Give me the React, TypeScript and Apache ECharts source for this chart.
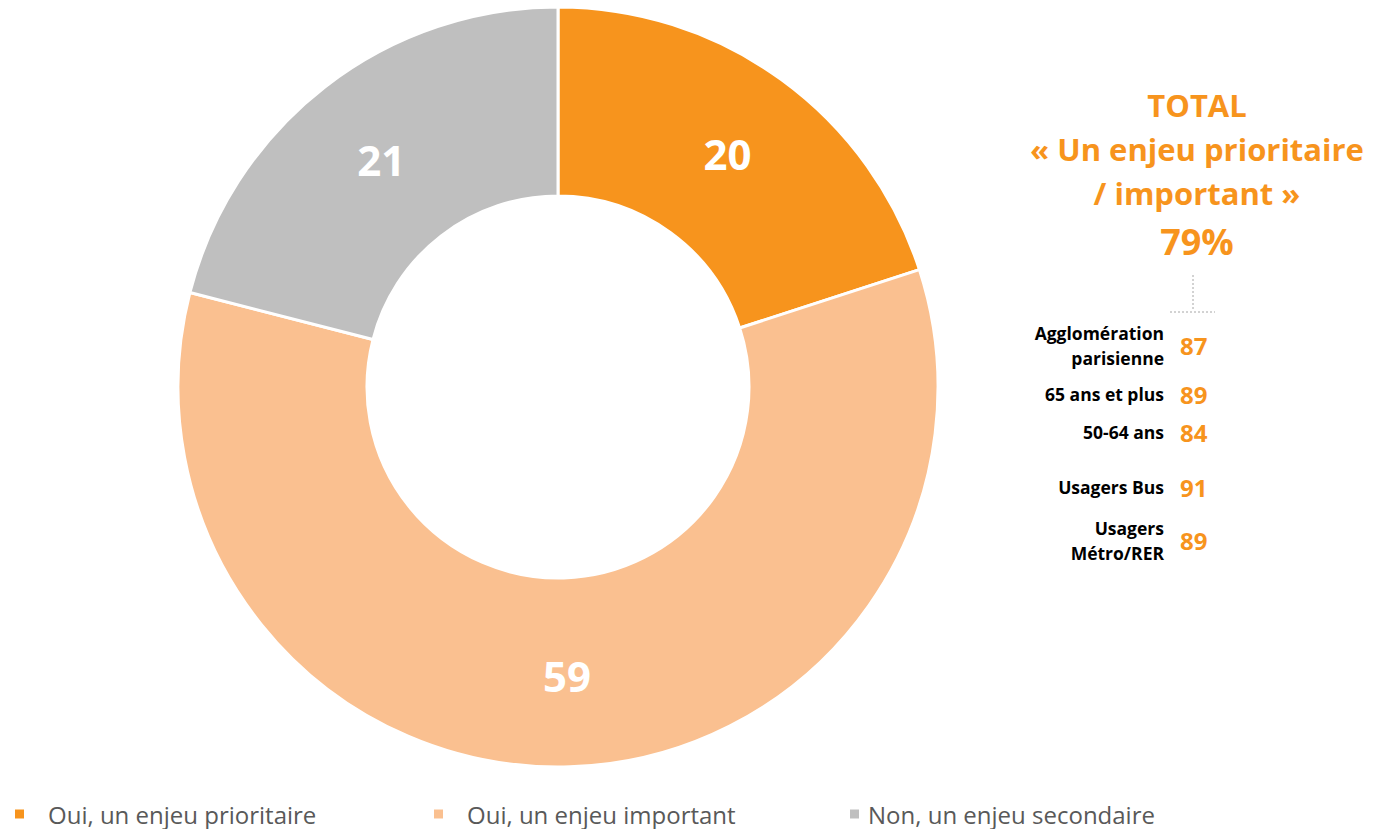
import React, { useEffect, useRef } from "react";
import * as echarts from "echarts";

const categories = ["Oui, un enjeu prioritaire", "Oui, un enjeu important", "Non, un enjeu secondaire"];
const values = [20, 59, 21];
const colors = ["#F7941D", "#FAC090", "#BFBFBF"];

const totalTitle = ["TOTAL", "« Un enjeu prioritaire", "/ important »"];
const totalValue = "79%";

const groupLabels = [["Agglomération", "parisienne"], ["65 ans et plus"], ["50-64 ans"], ["Usagers Bus"], ["Usagers", "Métro/RER"]];
const groupValues = [87, 89, 84, 91, 89];
const groupY = [345, 394, 432, 487, 540];

const FONT = "'Open Sans', sans-serif";
const ORANGE = "#F7941D";

export default function App() {
  const ref = useRef<HTMLDivElement>(null);
  useEffect(() => {
    if (!ref.current) return;
    const chart = echarts.init(ref.current, undefined, { renderer: "svg" });

    const graphics: any[] = [];
    totalTitle.forEach((t, i) => {
      graphics.push({
        type: "text",
        x: 1197,
        y: 105 + i * 44,
        style: { text: t, fill: ORANGE, font: `bold 31px ${FONT}`, textAlign: "center", textVerticalAlign: "middle" },
      });
    });
    graphics.push({
      type: "text",
      x: 1197,
      y: 241,
      style: { text: totalValue, fill: ORANGE, font: `bold 36px ${FONT}`, textAlign: "center", textVerticalAlign: "middle" },
    });
    graphics.push({
      type: "line",
      shape: { x1: 1193, y1: 275, x2: 1193, y2: 311 },
      style: { stroke: "#A6A6A6", lineWidth: 1, lineDash: [2, 2] },
    });
    graphics.push({
      type: "line",
      shape: { x1: 1170, y1: 312, x2: 1215, y2: 312 },
      style: { stroke: "#A6A6A6", lineWidth: 1, lineDash: [2, 2] },
    });
    groupLabels.forEach((lines, i) => {
      const cy = groupY[i];
      const lh = 25;
      lines.forEach((l, j) => {
        const y = cy + (j - (lines.length - 1) / 2) * lh;
        graphics.push({
          type: "text",
          x: 1164,
          y,
          style: { text: l, fill: "#000000", font: `bold 17.5px ${FONT}`, textAlign: "right", textVerticalAlign: "middle" },
        });
      });
      graphics.push({
        type: "text",
        x: 1180,
        y: cy,
        style: { text: String(groupValues[i]), fill: ORANGE, font: `bold 24px ${FONT}`, textAlign: "left", textVerticalAlign: "middle" },
      });
    });

    const legendPos = [
      { left: 13, pad: 18 },
      { left: 432, pad: 18 },
      { left: 848, pad: 3 },
    ];

    chart.setOption({
      animation: false,
      backgroundColor: "#ffffff",
      color: colors,
      legend: categories.map((c, i) => ({
        data: [c],
        left: legendPos[i].left,
        top: 802,
        padding: 0,
        icon: "rect",
        itemWidth: 11,
        itemHeight: 11,
        selectedMode: false,
        textStyle: {
          fontFamily: FONT,
          fontSize: 24,
          color: "#595959",
          padding: [0, 0, 0, legendPos[i].pad],
        },
      })),
      series: [
        {
          type: "pie",
          center: [558, 387],
          radius: [191, 380],
          startAngle: 90,
          clockwise: true,
          avoidLabelOverlap: false,
          itemStyle: { borderColor: "#ffffff", borderWidth: 3 },
          label: {
            show: true,
            position: "inside",
            formatter: "{c}",
            color: "#ffffff",
            fontSize: 42,
            fontWeight: "bold",
            fontFamily: FONT,
          },
          labelLine: { show: false },
          emphasis: { disabled: true },
          data: categories.map((c, i) => ({ name: c, value: values[i] })),
        },
      ],
      graphic: graphics,
    });
    return () => chart.dispose();
  }, []);
  return (
    <div
      ref={ref}
      style={{ position: "fixed", left: 0, top: 0, width: 1375, height: 829, background: "#fff" }}
    />
  );
}
